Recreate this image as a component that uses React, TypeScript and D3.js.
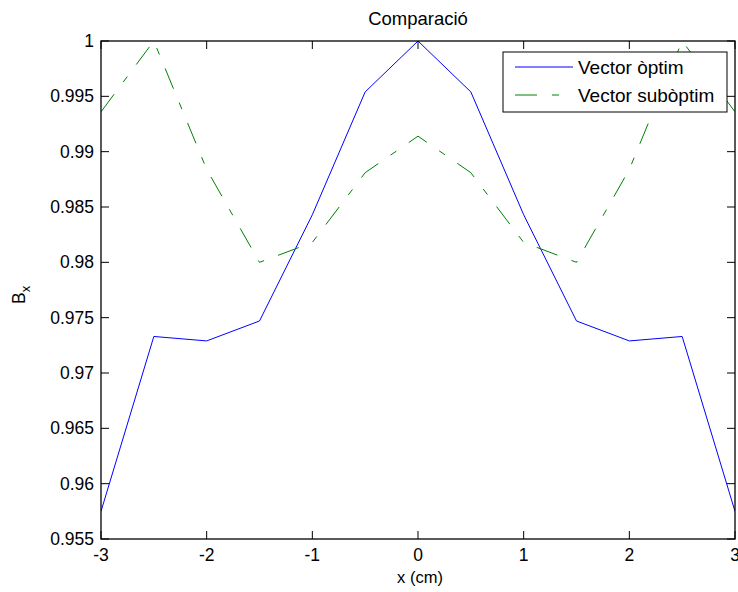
import React from "react";
import * as d3 from "d3";

const xs = [-3, -2.5, -2, -1.5, -1, -0.5, 0, 0.5, 1, 1.5, 2, 2.5, 3];
const optim = [0.9575, 0.9733, 0.9729, 0.9747, 0.9843, 0.9954, 1.0, 0.9954, 0.9843, 0.9747, 0.9729, 0.9733, 0.9575];
const suboptim = [0.9936, 1.0, 0.9884, 0.98, 0.9818, 0.9881, 0.9914, 0.9881, 0.9818, 0.98, 0.9884, 1.0, 0.9936];
const xTicks = [-3, -2, -1, 0, 1, 2, 3];
const yTicks = [0.955, 0.96, 0.965, 0.97, 0.975, 0.98, 0.985, 0.99, 0.995, 1];
const seriesNames = ["Vector òptim", "Vector subòptim"];
const title = "Comparació";
const xLabel = "x (cm)";

const W = 738, H = 592;
const L = 101, R = 735, T = 41, B = 539;
const FONT = "'Liberation Sans', Arial, sans-serif";

export default function App() {
  const x = d3.scaleLinear().domain([-3, 3]).range([L, R]);
  const y = d3.scaleLinear().domain([0.955, 1]).range([B, T]);
  const line = d3.line<number>().x((_, i) => x(xs[i])).y((d) => y(d));
  const tl = 8;
  const fmtY = (v: number) => String(+v.toFixed(3));
  return (
    <svg width={W} height={H} style={{ position: "absolute", left: 0, top: 0, background: "#fff" }} fontFamily={FONT}>
      <rect x={0} y={0} width={W} height={H} fill="#fff" />
      <defs>
        <clipPath id="pa"><rect x={L} y={T} width={R - L} height={B - T} /></clipPath>
      </defs>
      <g clipPath="url(#pa)">
        <path d={line(optim) || ""} fill="none" stroke="#0000ff" strokeWidth={1} />
        <path d={line(suboptim) || ""} fill="none" stroke="#008000" strokeWidth={1} strokeDasharray="22,15,7,15" />
      </g>
      {xTicks.map((t) => (
        <g key={"x" + t}>
          <line x1={x(t)} x2={x(t)} y1={B} y2={B - tl} stroke="#000" />
          <line x1={x(t)} x2={x(t)} y1={T} y2={T + tl} stroke="#000" />
          <text x={x(t)} y={561} fontSize={17.5} textAnchor="middle">{String(t)}</text>
        </g>
      ))}
      {yTicks.map((t) => (
        <g key={"y" + t}>
          <line x1={L} x2={L + tl} y1={y(t)} y2={y(t)} stroke="#000" />
          <line x1={R} x2={R - tl} y1={y(t)} y2={y(t)} stroke="#000" />
          <text x={94} y={y(t) + 6} fontSize={17.5} textAnchor="end">{fmtY(t)}</text>
        </g>
      ))}
      <rect x={L} y={T} width={R - L} height={B - T} fill="none" stroke="#000" strokeWidth={1.3} />
      <text x={(L + R) / 2} y={25} fontSize={18.5} textAnchor="middle">{title}</text>
      <text x={420} y={583} fontSize={16.5} textAnchor="middle">{xLabel}</text>
      <text transform="translate(25,304) rotate(-90)" fontSize={17.5}>
        B<tspan dy={5} fontSize={13}>x</tspan>
      </text>
      <g>
        <rect x={503} y={52} width={224} height={60} fill="#fff" stroke="#000" strokeWidth={1} />
        <line x1={515} x2={573} y1={67} y2={67} stroke="#0000ff" />
        <line x1={515} x2={573} y1={95} y2={95} stroke="#008000" strokeDasharray="22,15,7,15" />
        <text x={578} y={74} fontSize={19}>{seriesNames[0]}</text>
        <text x={578} y={102} fontSize={19}>{seriesNames[1]}</text>
      </g>
    </svg>
  );
}
